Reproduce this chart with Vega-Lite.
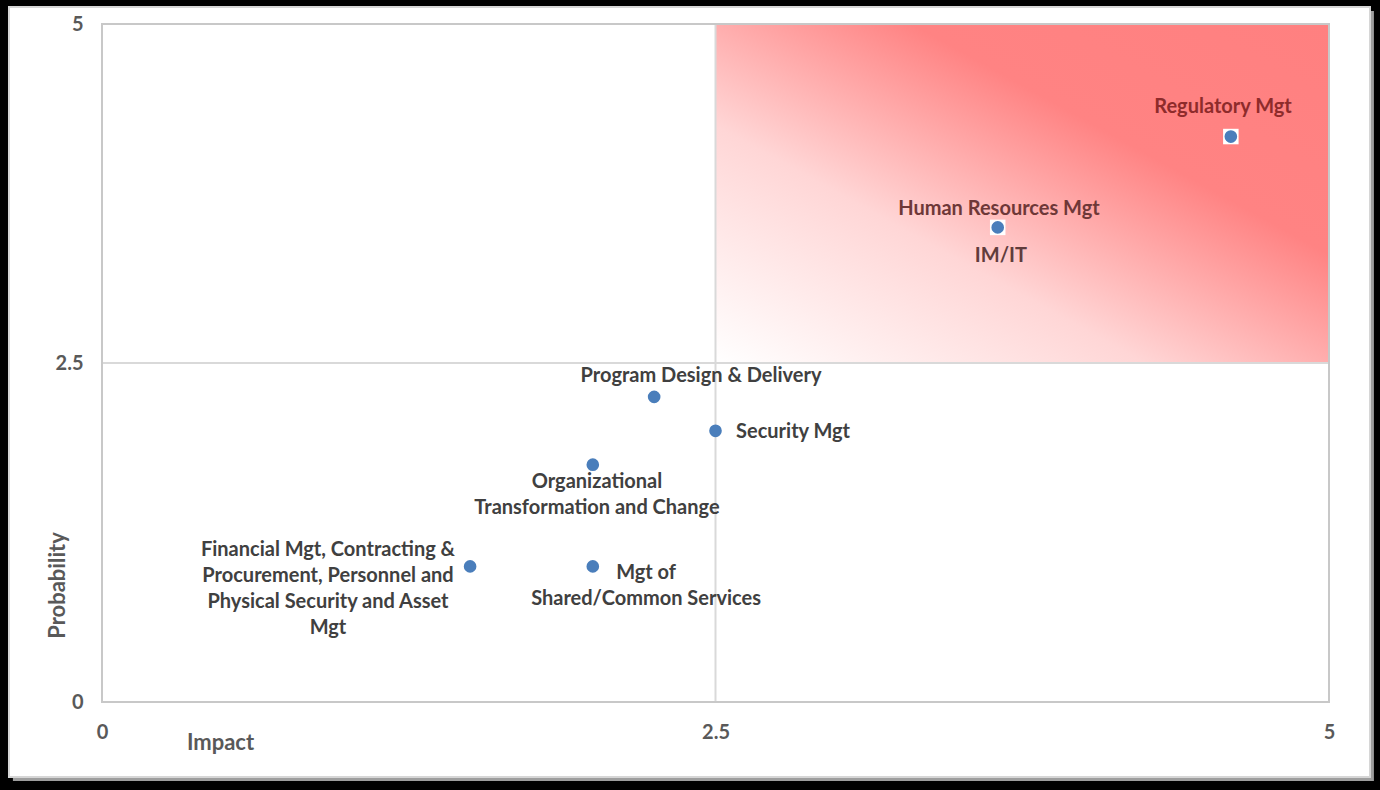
{
  "$schema": "https://vega.github.io/schema/vega-lite/v6.json",
  "width": 1227,
  "height": 678,
  "autosize": {"type": "none"},
  "padding": {"left": 102, "top": 24, "right": 51, "bottom": 88},
  "background": "black",
  "config": {
    "view": {"stroke": null},
    "axis": {
      "labelFont": "Lato", "labelFontWeight": "bold", "labelFontSize": 20, "labelColor": "#595959",
      "titleFont": "Lato", "titleFontWeight": "bold", "titleFontSize": 22, "titleColor": "#595959",
      "grid": false, "domain": false, "ticks": false
    }
  },
  "datasets": {
    "risks": [
      {"risk": "Regulatory Mgt", "impact": 4.6, "probability": 4.17, "highlight": "yes"},
      {"risk": "Human Resources Mgt / IM/IT", "impact": 3.65, "probability": 3.5, "highlight": "yes"},
      {"risk": "Program Design & Delivery", "impact": 2.25, "probability": 2.25, "highlight": "no"},
      {"risk": "Security Mgt", "impact": 2.5, "probability": 2.0, "highlight": "no"},
      {"risk": "Organizational Transformation and Change", "impact": 2.0, "probability": 1.75, "highlight": "no"},
      {"risk": "Financial Mgt, Contracting & Procurement, Personnel and Physical Security and Asset Mgt", "impact": 1.5, "probability": 1.0, "highlight": "no"},
      {"risk": "Mgt of Shared/Common Services", "impact": 2.0, "probability": 1.0, "highlight": "no"}
    ],
    "labels": [
      {"label": "Regulatory Mgt", "lx": 4.568, "ly": 4.388, "tone": "red"},
      {"label": "Human Resources Mgt", "lx": 3.655, "ly": 3.635, "tone": "brown"},
      {"label": "IM/IT", "lx": 3.663, "ly": 3.289, "tone": "dark brown"},
      {"label": "Program Design & Delivery", "lx": 2.441, "ly": 2.404, "tone": "gray"},
      {"label": "Security Mgt", "lx": 2.816, "ly": 1.991, "tone": "gray"},
      {"label": "Organizational\nTransformation and Change", "lx": 2.017, "ly": 1.622, "tone": "gray"},
      {"label": "Financial Mgt, Contracting &\nProcurement, Personnel and\nPhysical Security and Asset\nMgt", "lx": 0.921, "ly": 1.121, "tone": "gray"},
      {"label": "Mgt of\nShared/Common Services", "lx": 2.217, "ly": 0.951, "tone": "gray"}
    ]
  },
  "layer": [
    {
      "data": {"values": [{}]},
      "mark": {"type": "rect", "fill": "#c4c4c4", "opacity": 0.8},
      "encoding": {
        "x": {"datum": -0.363, "type": "quantitative", "title": "Impact",
          "scale": {"domain": [0, 5], "nice": false, "zero": false},
          "axis": {"values": [0, 2.5, 5], "format": "~g", "zindex": 2, "labelPadding": 20, "labelFlush": false, "titleX": 118, "titleY": 40, "titleBaseline": "middle", "titleAlign": "center"}},
        "x2": {"datum": 5.183},
        "y": {"datum": 5.096, "type": "quantitative", "title": "Probability",
          "scale": {"domain": [0, 5], "nice": false, "zero": false},
          "axis": {"values": [0, 2.5, 5], "format": "~g", "zindex": 2, "labelPadding": 19, "labelFlush": false, "titleX": -45, "titleY": 561, "titleAngle": -90, "titleBaseline": "middle", "titleAlign": "center"}},
        "y2": {"datum": -0.583}
      }
    },
    {
      "data": {"values": [{}]},
      "mark": {"type": "rect", "fill": "white", "stroke": "#d6d6d6", "strokeWidth": 2},
      "encoding": {
        "x": {"datum": -0.379, "type": "quantitative", "title": "Impact"},
        "x2": {"datum": 5.167},
        "y": {"datum": 5.125, "type": "quantitative", "title": "Probability"},
        "y2": {"datum": -0.553}
      }
    },
    {
      "data": {"values": [{}]},
      "mark": {
        "type": "rect",
        "fill": {
          "gradient": "linear", "x1": 0, "y1": 1, "x2": 1, "y2": 0,
          "stops": [
            {"offset": 0, "color": "#ffffff"},
            {"offset": 0.35, "color": "#ffd6d6"},
            {"offset": 0.66, "color": "#ff8383"},
            {"offset": 1, "color": "#ff8080"}
          ]
        }
      },
      "encoding": {
        "x": {"datum": 2.5, "type": "quantitative", "title": "Impact"},
        "x2": {"datum": 5},
        "y": {"datum": 2.5, "type": "quantitative", "title": "Probability"},
        "y2": {"datum": 5}
      }
    },
    {
      "data": {"values": [{}]},
      "mark": {"type": "rule", "color": "#d9d9d9", "strokeWidth": 2},
      "encoding": {
        "x": {"datum": 2.5, "type": "quantitative", "title": "Impact"},
        "y": {"datum": 0, "type": "quantitative", "title": "Probability"},
        "y2": {"datum": 5}
      }
    },
    {
      "data": {"values": [{}]},
      "mark": {"type": "rule", "color": "#d9d9d9", "strokeWidth": 2},
      "encoding": {
        "y": {"datum": 2.5, "type": "quantitative", "title": "Probability"},
        "x": {"datum": 0, "type": "quantitative", "title": "Impact"},
        "x2": {"datum": 5}
      }
    },
    {
      "data": {"values": [{}]},
      "mark": {"type": "rect", "fill": null, "stroke": "#c8c8c8", "strokeWidth": 2},
      "encoding": {
        "x": {"datum": 0, "type": "quantitative", "title": "Impact"},
        "x2": {"datum": 5},
        "y": {"datum": 0, "type": "quantitative", "title": "Probability"},
        "y2": {"datum": 5}
      }
    },
    {
      "data": {"name": "risks"},
      "transform": [{"filter": "datum.highlight === 'yes'"}],
      "mark": {"type": "point", "shape": "square", "filled": true, "color": "white", "size": 240, "opacity": 1},
      "encoding": {
        "x": {"field": "impact", "type": "quantitative", "title": "Impact"},
        "y": {"field": "probability", "type": "quantitative", "title": "Probability"}
      }
    },
    {
      "data": {"name": "risks"},
      "mark": {"type": "circle", "color": "#4a7ebb", "size": 160, "opacity": 1},
      "encoding": {
        "x": {"field": "impact", "type": "quantitative", "title": "Impact"},
        "y": {"field": "probability", "type": "quantitative", "title": "Probability"},
        "tooltip": {"field": "risk"}
      }
    },
    {
      "data": {"name": "labels"},
      "mark": {"type": "text", "font": "Lato", "fontWeight": "bold", "fontSize": 20, "lineBreak": "\n", "lineHeight": 26, "align": "center", "baseline": "middle"},
      "encoding": {
        "x": {"field": "lx", "type": "quantitative", "title": "Impact"},
        "y": {"field": "ly", "type": "quantitative", "title": "Probability"},
        "text": {"field": "label"},
        "color": {"field": "tone", "type": "nominal", "legend": null,
          "scale": {"domain": ["red", "brown", "dark brown", "gray"], "range": ["#8e2b2b", "#6e3838", "#603c3c", "#404040"]}}
      }
    }
  ]
}
